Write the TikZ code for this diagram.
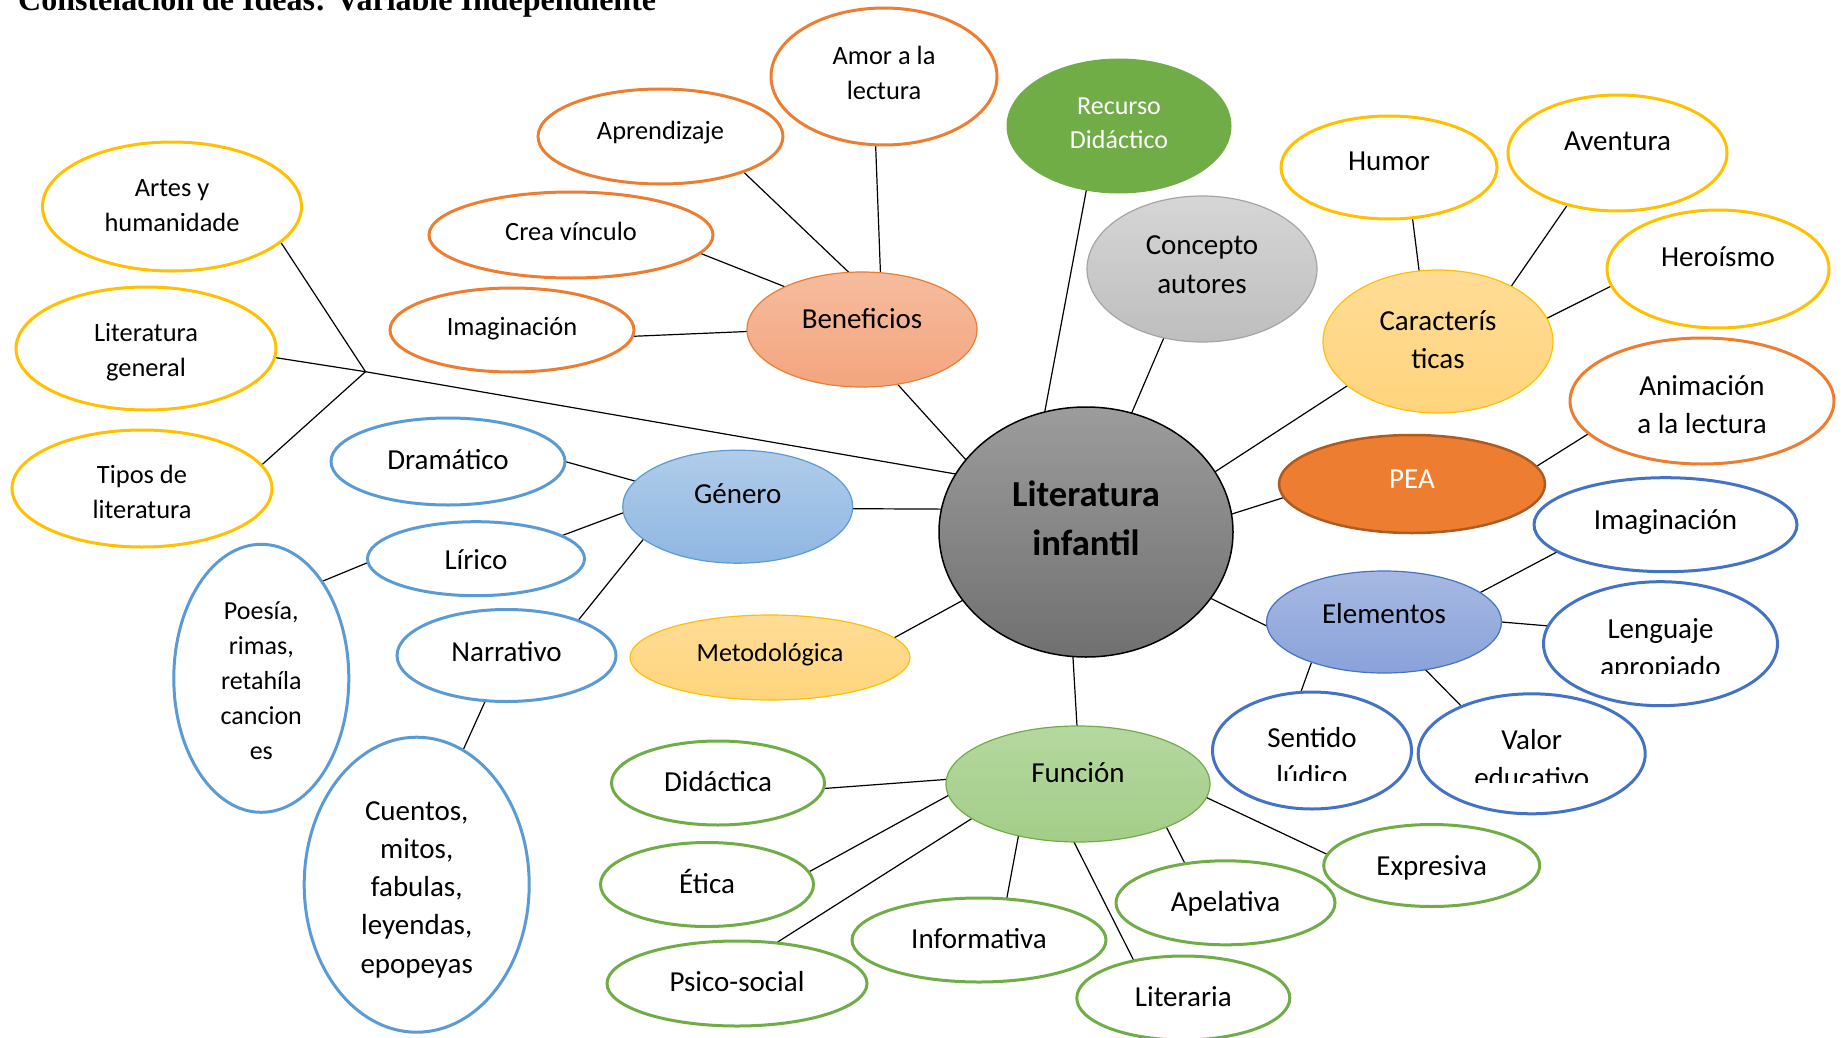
\documentclass[tikz,border=0pt]{standalone}
\usepackage{fontspec}
\setmainfont{Carlito}
\newfontfamily\titlefont{Liberation Serif}
\usetikzlibrary{shapes.geometric,backgrounds}
\definecolor{cOr}{HTML}{ED7D31}
\definecolor{cOrD}{HTML}{AE5A21}
\definecolor{cYe}{HTML}{FFC000}
\definecolor{cGr}{HTML}{70AD47}
\definecolor{cBl}{HTML}{5B9BD5}
\definecolor{cBd}{HTML}{4472C4}
\definecolor{benT}{HTML}{F6BC9E}
\definecolor{benB}{HTML}{F3A57E}
\definecolor{carT}{HTML}{FFDC96}
\definecolor{carB}{HTML}{FFD47C}
\definecolor{funT}{HTML}{B5D89F}
\definecolor{funB}{HTML}{A3CD88}
\definecolor{genT}{HTML}{B0CDEA}
\definecolor{genB}{HTML}{8FB6E2}
\definecolor{eleT}{HTML}{A7B9E2}
\definecolor{eleB}{HTML}{89A2DA}
\definecolor{conT}{HTML}{D6D6D6}
\definecolor{conB}{HTML}{BEBEBE}
\definecolor{conD}{HTML}{A5A5A5}
\definecolor{cenT}{HTML}{9C9C9C}
\definecolor{cenB}{HTML}{707070}
\newcommand\fsz[2]{\fontsize{#1}{#2}\selectfont}
\tikzset{
  el/.style={ellipse, inner sep=0pt, outer sep=0pt, align=center, text height=24pt},
  sz/.style 2 args={minimum width=#1pt, minimum height=#2pt},
  td/.style={text depth=#1pt},
  tb/.style 2 args={text height=#1pt, text depth=#2pt},
  big/.style={font=\fsz{29}{38.3}},
  small/.style={font=\fsz{26.4}{35.7}},
  leafO/.style={el, draw=cOr, line width=3pt, fill=white, small},
  leafOR/.style={el, draw=cOr, line width=3pt, fill=white, big},
  leafY/.style={el, draw=cYe, line width=3pt, fill=white, font=\fsz{26.4}{35}},
  leafYR/.style={el, draw=cYe, line width=3pt, fill=white, big},
  leafG/.style={el, draw=cGr, line width=3pt, fill=white, big},
  leafL/.style={el, draw=cBl, line width=3pt, fill=white, big},
  leafB/.style={el, draw=cBd, line width=3pt, fill=white, big},
  ben/.style={el, draw=cOr, line width=1.2pt, top color=benT, bottom color=benB, big},
  car/.style={el, draw=cYe, line width=1.2pt, top color=carT, bottom color=carB, big},
  met/.style={el, draw=cYe, line width=1.2pt, top color=carT, bottom color=carB, font=\fsz{26.2}{35}},
  fun/.style={el, draw=cGr, line width=1.2pt, top color=funT, bottom color=funB, big},
  gen/.style={el, draw=cBl, line width=1.2pt, top color=genT, bottom color=genB, big},
  ele/.style={el, draw=cBd, line width=1.2pt, top color=eleT, bottom color=eleB, big},
  con/.style={el, draw=conD, line width=1.2pt, top color=conT, bottom color=conB, big},
  rec/.style={el, draw=cGr, line width=1pt, fill=cGr, text=white, font=\fsz{26}{34}},
  pea/.style={el, draw=cOrD, line width=2.5pt, fill=cOr, text=white, big},
  cen/.style={el, draw=black, line width=1.5pt, top color=cenT, bottom color=cenB, font=\bfseries\fsz{36.6}{48.3}},
  conn/.style={line width=1.2pt, black},
  cliptext/.style={el, big}
}
\begin{document}
\begin{tikzpicture}[x=1pt,y=-1pt]
\useasboundingbox (0,0) rectangle (1847,1038);
\clip (0,0) rectangle (1847,1038);
\node[anchor=base west, inner sep=0pt, font=\titlefont\bfseries\fsz{32}{38}] (title) at (18,11) {Constelación de Ideas: Variable Independiente};

% Beneficios branch
\node[leafO, sz={226}{137}, tb={69.7}{22.7}] (amor) at (884,76.5) {Amor a la\\lectura};
\node[leafO, sz={245}{95}, td=18.4] (apr) at (660.5,136.5) {Aprendizaje};
\node[leafO, sz={284}{86}, td=14] (crea) at (571,235) {Crea vínculo};
\node[leafO, sz={244}{84}, td=12.6] (imgo) at (512,330) {Imaginación};
\node[ben, sz={230}{115}, td=27] (ben) at (862,329.5) {Beneficios};

% top
\node[rec, sz={224}{134}, tb={68}{22}] (rec) at (1119,126) {Recurso\\Didáctico};
\node[con, sz={230}{146}, tb={72.3}{24}] (con) at (1202,269) {Concepto\\autores};

% Caracteristicas
\node[car, sz={230}{143}, tb={72.3}{18.7}] (car) at (1438,341.5) {Caracterís\\ticas};
\node[leafYR, sz={216}{103}, td=19] (hum) at (1389,167.5) {Humor};
\node[leafYR, sz={219}{116}, td=30] (ave) at (1617.5,153) {Aventura};
\node[leafYR, sz={222}{118}, td=28.6] (her) at (1718,269) {Heroísmo};

% PEA
\node[leafOR, sz={264}{126}, tb={72.3}{7.7}] (ani) at (1702,401) {Animación\\a la lectura};
\node[pea, sz={266}{98}, td=15.4] (pea) at (1412,484) {PEA};

% Elementos
\node[leafB, sz={263}{94}, td=14.8] (imgb) at (1665.5,524.7) {Imaginación};
\node[ele, sz={235}{102}, td=21.4] (ele) at (1384,622) {Elementos};
\node[leafB, sz={234}{124}] (len) at (1660.5,643.7) {};
\node[leafB, sz={199}{117}] (sen) at (1312,750.5) {};
\node[leafB, sz={227}{120}] (val) at (1531.7,753.8) {};
\begin{scope}
\clip (1540,600) rectangle (1782,673.5);
\node[cliptext, tb={72.3}{6.5}] (lentxt) at (1660.5,643.7) {Lenguaje\\apropiado};
\end{scope}
\begin{scope}
\clip (1212,700) rectangle (1412,780.5);
\node[cliptext, tb={72.3}{2.1}] (sentxt) at (1312,750.5) {Sentido\\lúdico};
\end{scope}
\begin{scope}
\clip (1418,700) rectangle (1646,782.5);
\node[cliptext, tb={72.3}{4.7}] (valtxt) at (1531.7,753.8) {Valor\\educativo};
\end{scope}

% Funcion
\node[fun, sz={264}{116}, td=26.6] (fun) at (1078,784) {Función};
\node[leafG, sz={213}{84}, td=6.6] (did) at (718,783) {Didáctica};
\node[leafG, sz={213}{84}, td=6.4] (eti) at (707,884.5) {Ética};
\node[leafG, sz={260}{85}, td=7.6] (psi) at (737,983.5) {Psico-social};
\node[leafG, sz={254}{84}, td=7.4] (inf) at (979,940) {Informativa};
\node[leafG, sz={213}{84}, td=6.6] (lit) at (1183.3,998) {Literaria};
\node[leafG, sz={219}{84}, td=6.2] (ape) at (1225.5,902.8) {Apelativa};
\node[leafG, sz={216}{82}, td=5] (exp) at (1431.7,865.5) {Expresiva};

% Metodologica, Genero
\node[met, sz={280}{85}, td=15.6] (met) at (770,657.5) {Metodológica};
\node[gen, sz={230}{113}, td=30.8] (gen) at (737.7,506.7) {Género};
\node[leafL, sz={234}{87}, td=9] (dra) at (448,461.5) {Dramático};
\node[leafL, sz={217}{74}, td=2.8] (lir) at (476,558.7) {Lírico};
\node[leafL, sz={219}{92}, td=11.6] (nar) at (506.5,655.5) {Narrativo};
\node[leafL, font=\fsz{26}{35}, sz={175}{268}, tb={174}{12}] (poe) at (261.3,678.3) {Poesía,\\rimas,\\retahíla\\cancion\\es};
\node[leafL, sz={225}{295}, tb={187.2}{10.2}] (cue) at (416.7,884.7) {Cuentos,\\mitos,\\fabulas,\\leyendas,\\epopeyas};

% left yellow
\node[leafY, sz={259}{129}, tb={69}{18.6}] (art) at (172,206.5) {Artes y\\humanidade};
\node[leafY, sz={260}{123}, tb={69}{12.6}] (litg) at (146,348.5) {Literatura\\general};
\node[leafY, sz={260}{117}, tb={69}{9.4}] (tip) at (142,488.5) {Tipos de\\literatura};

% centre
\node[cen, sz={294}{250}, tb={82.3}{36.3}] (cen) at (1086,532) {Literatura\\infantil};

\coordinate (B) at (365.5,371.7);

\begin{pgfonlayer}{background}
\draw[conn] (B) -- (cen.156.6);
\draw[conn] (B) -- (art.-18.8);
\draw[conn] (B) -- (litg.-4.2);
\draw[conn] (B) -- (tip.11.5);
\draw[conn] (cen.149.2) -- (ben.-57.5);
\draw[conn] (ben.103.8) -- (apr.-23.3);
\draw[conn] (ben.72.7) -- (amor.263.4);
\draw[conn] (ben.151.5) -- (crea.-8.3);
\draw[conn] (ben.181.7) -- (imgo.-3.1);
\draw[conn] (cen.109.2) -- (rec.243.2);
\draw[conn] (cen.69.5) -- (con.241.4);
\draw[conn] (cen.25.7) -- (car.206.1);
\draw[conn] (car.105.7) -- (hum.-65.1);
\draw[conn] (car.37.1) -- (ave.226.6);
\draw[conn] (car.12.8) -- (her.189.8);
\draw[conn] (cen.7.4) -- (pea.186.1);
\draw[conn] (pea.8.2) -- (ani.196.1);
\draw[conn] (cen.-28.7) -- (ele.182.3);
\draw[conn] (ele.17.7) -- (imgb.194.2);
\draw[conn] (ele.-0.5) -- (len.171.8);
\draw[conn] (ele.209.3) -- (sen.101.5);
\draw[conn] (ele.-49.8) -- (val.146.9);
\draw[conn] (cen.264.3) -- (fun.91);
\draw[conn] (fun.178.7) -- (did.-3.8);
\draw[conn] (fun.185.4) -- (eti.7.5);
\draw[conn] (fun.198.4) -- (psi.46.9);
\draw[conn] (fun.221) -- (inf.56.9);
\draw[conn] (fun.266) -- (lit.143.6);
\draw[conn] (fun.-26.5) -- (ape.136.4);
\draw[conn] (fun.-6) -- (exp.174.9);
\draw[conn] (cen.171.3) -- (gen.-1.6);
\draw[conn] (cen.209.7) -- (met.9.8);
\draw[conn] (gen.166.1) -- (dra.0.2);
\draw[conn] (gen.183.8) -- (lir.15.3);
\draw[conn] (gen.199.6) -- (nar.26);
\draw[conn] (lir.182.1) -- (poe.58.4);
\draw[conn] (nar.245.9) -- (cue.71.3);
\end{pgfonlayer}
\end{tikzpicture}
\end{document}
